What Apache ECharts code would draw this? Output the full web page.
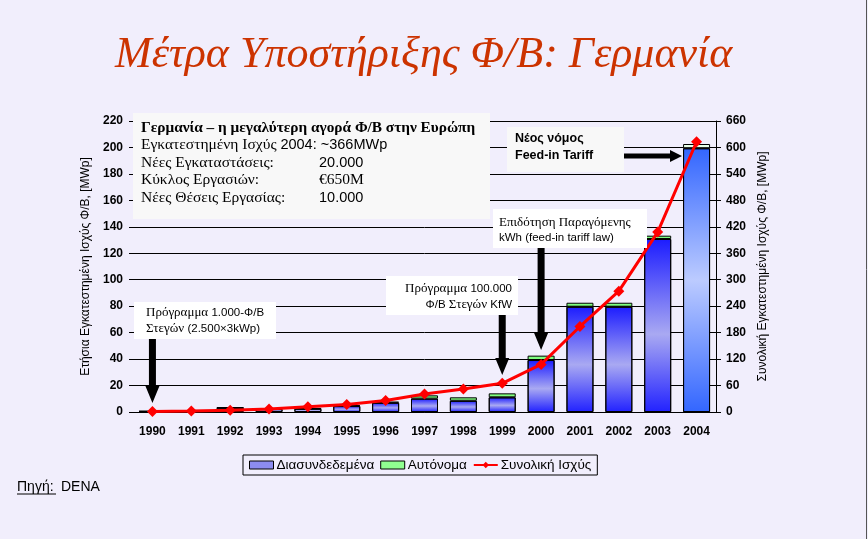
<!DOCTYPE html>
<html><head><meta charset="utf-8">
<script src="https://cdn.jsdelivr.net/npm/echarts@6/dist/echarts.min.js"></script>
<style>html,body{margin:0;padding:0;background:#f1eefc}#c{width:868px;height:539px}</style>
</head><body><div id="c"></div>
<script>
// ---- data ----
const years = ['1990','1991','1992','1993','1994','1995','1996','1997','1998','1999','2000','2001','2002','2003','2004'];
const gridConnected = [0.5, 0.3, 3.2, 2.2, 2.5, 4.5, 7.0, 10.1, 8.5, 11.1, 39.3, 79.6, 79.6, 130.8, 199.4];
const standalone    = [0.2, 0.2, 0.3, 0.4, 0.4, 0.6, 0.8, 2.5, 2.6, 3.0, 3.3, 3.0, 3.0, 2.5, 3.2];
const cumulative    = [1, 2, 4, 7, 12, 17, 26, 41, 52, 65, 108, 194, 274, 408, 613];
const seriesNames = ['Διασυνδεδεμένα', 'Αυτόνομα', 'Συνολική Ισχύς'];

const chart = echarts.init(document.getElementById('c'));
const blueGrad = {type:'linear',x:0,y:0,x2:0,y2:1,colorStops:[
  {offset:0,color:'#1c1cff'},{offset:0.55,color:'#a9a9f2'},{offset:1,color:'#2222ff'}]};
const blueGrad2004 = {type:'linear',x:0,y:0,x2:0,y2:1,colorStops:[
  {offset:0,color:'#3366ff'},{offset:0.5,color:'#bccbff'},{offset:1,color:'#3366ff'}]};

const serif = 'Liberation Serif';
const sans = 'Liberation Sans';

chart.setOption({
  backgroundColor:'#f1eefc',
  animation:false,
  title:{
    text:'Μέτρα Υποστήριξης Φ/Β: Γερμανία',
    left:110, top:28,
    textStyle:{fontFamily:serif,fontStyle:'italic',fontWeight:'normal',fontSize:44,color:'#cc3300',
      textShadowColor:'#000',textShadowOffsetX:2,textShadowOffsetY:2,textShadowBlur:0}
  },
  grid:{left:133,right:152,top:121,bottom:127},
  legend:{
    left:243, top:455,
    data:[
      {name:seriesNames[0],icon:'rect',itemStyle:{color:'#8c8cf0',borderColor:'#000',borderWidth:1}},
      {name:seriesNames[1],icon:'rect',itemStyle:{color:'#90ff90',borderColor:'#000',borderWidth:1}},
      {name:seriesNames[2]}
    ],
    itemWidth:24, itemHeight:8, itemGap:6,
    borderColor:'#000', borderWidth:1, padding:[3,6,3,6],
    backgroundColor:'#f1eefc',
    textStyle:{fontFamily:sans,fontSize:13.5,color:'#000',padding:[0,0,0,-2]}
  },
  xAxis:{
    type:'category', data:years,
    axisLine:{show:true,lineStyle:{color:'#000',width:1}},
    axisTick:{show:false},
    axisLabel:{fontFamily:sans,fontWeight:'bold',fontSize:12,color:'#000',margin:14}
  },
  yAxis:[
    {type:'value',min:0,max:220,interval:20,
     name:'Ετήσια Εγκατεστημένη Ισχύς Φ/Β, [MWp]',nameLocation:'middle',nameGap:40,nameRotate:90,
     nameTextStyle:{fontFamily:sans,fontSize:12,color:'#000'},
     axisLine:{show:false},axisTick:{show:true,length:4,lineStyle:{color:'#000'}},
     axisLabel:{fontFamily:sans,fontWeight:'bold',fontSize:12,color:'#000',margin:10},
     splitLine:{show:true,lineStyle:{color:'#000',width:1}}},
    {type:'value',min:0,max:660,interval:60,position:'right',
     name:'Συνολική Εγκατεστημένη Ισχύς Φ/Β, [MWp]',nameLocation:'middle',nameGap:41,nameRotate:90,
     nameTextStyle:{fontFamily:sans,fontSize:12,color:'#000'},
     axisLine:{show:true,lineStyle:{color:'#000',width:1}},
     axisTick:{show:true,length:5,lineStyle:{color:'#000'}},
     axisLabel:{fontFamily:sans,fontWeight:'bold',fontSize:12,color:'#000',margin:10},
     splitLine:{show:false}}
  ],
  series:[
    {name:seriesNames[0],type:'bar',stack:'pv',barWidth:27,
     data:gridConnected.map((v,i)=>({value:v,itemStyle:{color: years[i]==='2004'?blueGrad2004:blueGrad}})),
     itemStyle:{borderColor:'#000',borderWidth:1}},
    {name:seriesNames[1],type:'bar',stack:'pv',barWidth:27,
     data:standalone.map((v,i)=>({value:v,itemStyle:{color: years[i]==='2004'?'#e8ffe8':'#80ff80'}})),
     itemStyle:{borderColor:'#000',borderWidth:1}},
    {name:seriesNames[2],type:'line',yAxisIndex:1,data:cumulative,
     symbol:'diamond',symbolSize:11,z:5,
     lineStyle:{color:'#ff0000',width:3},itemStyle:{color:'#ff0000'}}
  ]
});

function px(cat){ return chart.convertToPixel({xAxisIndex:0}, cat); }
function downArrow(x, y0, y1, yTip){
  return {type:'polygon',z:20,shape:{points:[
    [x-3.5,y0],[x+3.5,y0],[x+3.5,y1],[x+7,y1],[x,yTip],[x-7,y1],[x-3.5,y1]]},
    style:{fill:'#000'}};
}
function box(x,y,w,h,fill){ return {type:'rect',z:15,shape:{x:x,y:y,width:w,height:h},style:{fill:fill||'#fff'}}; }
function rtext(x,y,text,align,rich){
  return {type:'text',z:21,x:x,y:y,style:{text:text,align:align||'left',verticalAlign:'middle',rich:rich,fill:'#000'}};
}
const annRich = {s:{fontFamily:serif,fontSize:13,fill:'#000'},a:{fontFamily:sans,fontSize:11.5,fill:'#000'}};
const boxRich = {s:{fontFamily:serif,fontSize:15.5,fill:'#000'},a:{fontFamily:sans,fontSize:14.5,fill:'#000'},
                 b:{fontFamily:serif,fontSize:15.3,fontWeight:'bold',fill:'#000'}};

const x1990 = px('1990'), x1999 = px('1999'), x2000 = px('2000');
chart.setOption({graphic:[
  // info box
  box(133,113,357,106,'#f8f8f8'),
  rtext(141,128,'{b|Γερμανία – η μεγαλύτερη αγορά Φ/Β στην Ευρώπη}','left',boxRich),
  rtext(141,145,'{s|Εγκατεστημένη Ισχύς }{a|2004: ~366MWp}','left',boxRich),
  rtext(141,163,'{s|Νέες Εγκαταστάσεις:}','left',boxRich),
  rtext(141,180,'{s|Κύκλος Εργασιών:}','left',boxRich),
  rtext(141,198,'{s|Νέες Θέσεις Εργασίας:}','left',boxRich),
  rtext(319,163,'{a|20.000}','left',boxRich),
  rtext(319,180,'{s|€650M}','left',boxRich),
  rtext(319,198,'{a|10.000}','left',boxRich),
  // annotation 1
  box(134,302,142,37),
  rtext(146,313,'{s|Πρόγραμμα }{a|1.000-Φ/Β}','left',annRich),
  rtext(146,329,'{s|Στεγών }{a|(2.500×3kWp)}','left',annRich),
  downArrow(x1990,339,386,403),
  // annotation 2
  box(386,276,132,39),
  rtext(512,289,'{s|Πρόγραμμα }{a|100.000}','right',annRich),
  rtext(512,305,'{a|Φ/Β }{s|Στεγών }{a|KfW}','right',annRich),
  downArrow(x1999,315,358,375),
  // annotation 3
  box(493,209,154,39),
  rtext(499,223,'{s|Επιδότηση Παραγόμενης}','left',annRich),
  rtext(499,238,'{a|kWh (feed-in tariff law)}','left',annRich),
  downArrow(x2000,248,333,350),
  // annotation 4
  box(507,127,117,45,'#f8f8f8'),
  rtext(515,139,'{a|Νέος νόμος}','left',{a:{fontFamily:sans,fontSize:12.5,fontWeight:'bold',fill:'#000'}}),
  rtext(515,156,'{a|Feed-in Tariff}','left',{a:{fontFamily:sans,fontSize:12.5,fontWeight:'bold',fill:'#000'}}),
  {type:'polygon',z:20,shape:{points:[[624,153.5],[670,153.5],[670,150],[682,156],[670,162],[670,158.5],[624,158.5]]},style:{fill:'#000'}},
  // source
  {type:'text',x:17,y:487,style:{text:'Πηγή:',fontFamily:sans,fontSize:14,fill:'#000',verticalAlign:'middle'}},
  {type:'line',shape:{x1:17,y1:494,x2:56,y2:494},style:{stroke:'#000',lineWidth:1}},
  {type:'text',x:61,y:487,style:{text:'DENA',fontFamily:sans,fontSize:14,fill:'#000',verticalAlign:'middle'}},
  // slide border
  {type:'line',shape:{x1:866.5,y1:0,x2:866.5,y2:539},style:{stroke:'#555',lineWidth:1}}
]});
</script></body></html>
